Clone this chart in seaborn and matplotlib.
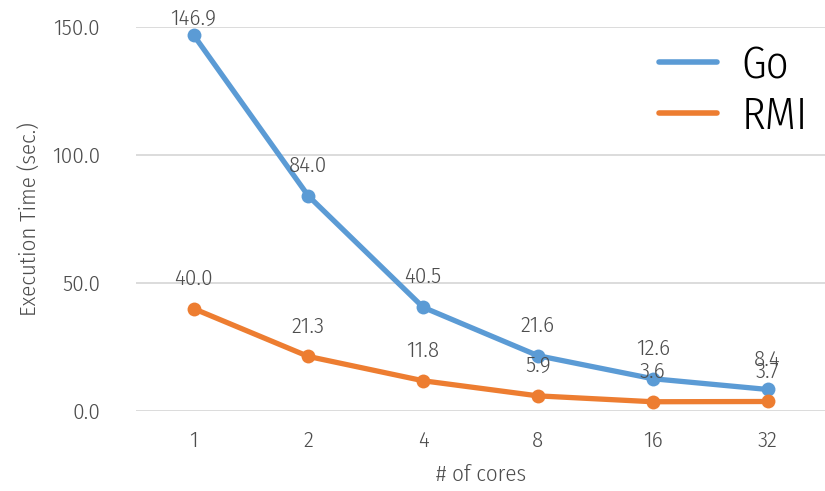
import matplotlib
matplotlib.use("Agg")
import matplotlib.pyplot as plt
import seaborn as sns
import pandas as pd
from matplotlib import font_manager

cores = ["1", "2", "4", "8", "16", "32"]
go_times = [146.9, 84.0, 40.5, 21.6, 12.6, 8.4]
rmi_times = [40.0, 21.3, 11.8, 5.9, 3.6, 3.7]
series_names = ["Go", "RMI"]
yticks = [0, 50, 100, 150]

sns.set_theme(style="white")
names = {f.name for f in font_manager.fontManager.ttflist}
prefs = ["Fira Sans Condensed", "Roboto Condensed", "Barlow Semi Condensed", "Open Sans"]
fam = next((p for p in prefs if p in names), "DejaVu Sans")
plt.rcParams["font.family"] = [fam, "DejaVu Sans"]

df = pd.DataFrame({
    "cores": cores * 2,
    "time": go_times + rmi_times,
    "series": [series_names[0]] * len(cores) + [series_names[1]] * len(cores),
})

colors = {"Go": "#5B9BD5", "RMI": "#ED7D31"}
grey = "#4D4D4D"
W = 350

fig = plt.figure(figsize=(8.25, 4.91), dpi=100)
ax = fig.add_axes([0.165, 0.163, 0.835, 0.782])

sns.lineplot(data=df, x="cores", y="time", hue="series", palette=colors,
             marker="o", markersize=10, markeredgewidth=0, linewidth=3.8,
             ax=ax, sort=False, clip_on=False)

for name, vals in zip(series_names, [go_times, rmi_times]):
    for i, v in enumerate(vals):
        off = 4 if v > 140 else 14
        ax.annotate(f"{v:.1f}", (i, v), xytext=(0, off), textcoords="offset points",
                    ha="center", va="bottom", fontsize=16.5, color=grey, fontweight=W)

ax.set_xlim(-0.5, len(cores) - 0.5)
ax.set_ylim(0, 150)
ax.set_yticks(yticks)
ax.set_yticklabels([f"{t:.1f}" for t in yticks])
ax.yaxis.grid(True, color="#D9D9D9", linewidth=1.3)
ax.set_axisbelow(True)
for s in ax.spines.values():
    s.set_visible(False)
ax.tick_params(axis="both", length=0, labelsize=16.5, labelcolor=grey)
for lab in ax.get_xticklabels() + ax.get_yticklabels():
    lab.set_fontweight(W)
ax.tick_params(axis="y", pad=26)
ax.tick_params(axis="x", pad=14)
ax.set_xlabel("# of cores", fontsize=16.5, color=grey, labelpad=9, fontweight=W)
ax.set_ylabel("Execution Time (sec.)", fontsize=16.5, color=grey, labelpad=8,
              fontweight=W)

leg = ax.legend(loc="upper right", bbox_to_anchor=(1.02, 1.035), frameon=False,
                fontsize=32, handlelength=1.3, handletextpad=0.55, labelspacing=0.18,
                borderaxespad=0.3)
for h in leg.get_lines():
    h.set_marker("")
    h.set_linewidth(4)
for t in leg.get_texts():
    t.set_color("black")
    t.set_fontweight(W)

fig.savefig("out.png", dpi=100)
